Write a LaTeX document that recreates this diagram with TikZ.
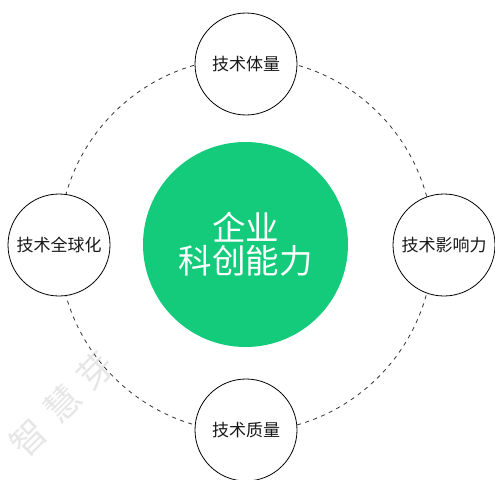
\documentclass[tikz,border=0pt]{standalone}
\usepackage{fontspec}
\setmainfont{Noto Sans CJK SC}
\newfontfamily\cjk{Noto Sans CJK SC}
\definecolor{coregreen}{HTML}{13CB7B}
\definecolor{ringgray}{HTML}{333333}
\definecolor{wmgray}{HTML}{E6E6E6}
\begin{document}
\begin{tikzpicture}[x=1pt,y=-1pt,
  satellite/.style={circle,draw=black,line width=0.8pt,fill=white,minimum size=102pt,inner sep=0pt,font=\cjk\fontsize{17}{19}\selectfont,text=black!90},
  core/.style={circle,fill=coregreen,minimum size=205pt,inner sep=0pt,text=white,align=center,font=\cjk\fontsize{33.5}{36}\selectfont},
  ring/.style={draw=ringgray,line width=0.8pt,dash pattern=on 4pt off 4.5pt},
  watermark/.style={text=wmgray,rotate=45,inner sep=0pt,font=\cjk\fontsize{35}{37}\selectfont}]
\useasboundingbox (0,0) rectangle (495,479);
\fill[white] (0,0) rectangle (495,479);
% watermark
\node[watermark] (wm) at (62,404) {智\hspace{12pt}慧\hspace{12pt}芽};
% ring
\coordinate (rc) at (246,245);
\draw[ring] (rc) circle[radius=187];
% core
\node[core] (c) at (245.5,244.5) {企业\\[-3pt]科创能力};
% satellites
\node[satellite] (t) at (246,64) {技术体量};
\node[satellite] (b) at (246,430) {技术质量};
\node[satellite] (l) at (59,245) {技术全球化};
\node[satellite] (r) at (444,245) {技术影响力};
\end{tikzpicture}
\end{document}
